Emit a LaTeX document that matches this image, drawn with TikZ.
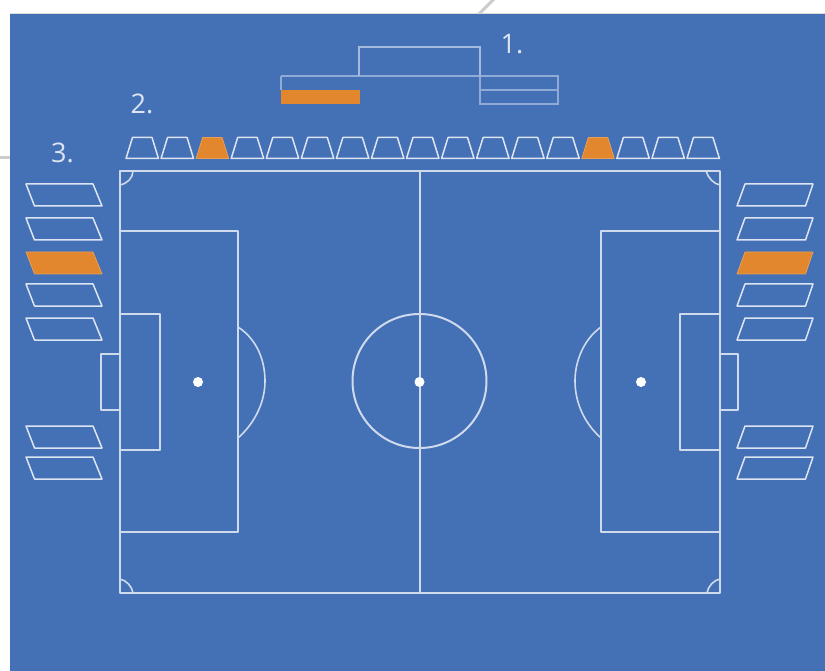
\documentclass[tikz,border=0pt]{standalone}
\usepackage{fontspec}
\setmainfont{Open Sans}
\definecolor{pitchblue}{HTML}{4470B6}
\definecolor{seatorange}{HTML}{E2872E}
\definecolor{linewhite}{HTML}{CFDAEC}
\definecolor{seatline}{HTML}{DDE5F2}
\definecolor{faintline}{HTML}{8FAAD4}
\tikzset{
  pitchline/.style={draw=linewhite,line width=2pt,line join=round},
  thinline/.style={draw=linewhite,line width=1.6pt,line join=round},
  faint/.style={draw=faintline,line width=1.4pt},
  seat/.style={draw=seatline,line width=1.5pt,line join=round},
  seathot/.style={fill=seatorange,draw=seatorange!80!white,line width=.8pt,line join=round},
  spot/.style={fill=white,draw=none},
  numlabel/.style={text=seatline,font=\fontsize{27}{27}\selectfont,inner sep=0pt,anchor=center}
}
\begin{document}
\begin{tikzpicture}[x=1pt,y=-1pt]
\useasboundingbox (0,0) rectangle (825,671);
\fill[white] (0,0) rectangle (825,671);
% stray grey lines behind the panel
\draw[black!20,line width=3pt] (478,15) -- (495,-2);
\draw[black!20,line width=3pt] (0,158) -- (12,158);
\fill[pitchblue] (10,13) rectangle (825,671);
\draw[black!15,line width=.8pt] (10,13) -- (825,13);
% main stand
\draw[faint] (281,76) -- (558,76);
\draw[faint] (281,76) -- (281,90);
\draw[faint] (480,90) -- (558,90);
\draw[faint] (480,104) rectangle (558,76);
\fill[seatorange] (281,90) rectangle (360,104);
\draw[faint,draw=linewhite!70!pitchblue] (359,76) -- (359,47) -- (480,47) -- (480,76);
% top row of stands
\foreach \i in {0,...,16}{
  \pgfmathsetmacro{\xo}{126+35.06*\i}
  \ifnum\i=2 \def\sty{seathot}\else\ifnum\i=13 \def\sty{seathot}\else\def\sty{seat}\fi\fi
  \draw[\sty] (\xo,158.5) -- (\xo+6.5,137.5) -- (\xo+26,137.5) -- (\xo+32.5,158.5) -- cycle;
}
% side stands
\foreach \yo/\sty in {184/seat,218/seat,252/seathot,284/seat,318/seat,426/seat,457/seat}{
  \draw[\sty] (26,\yo) -- (93,\yo) -- (102,\yo+22) -- (34.5,\yo+22) -- cycle;
  \draw[\sty] (813,\yo) -- (745,\yo) -- (737,\yo+22) -- (805.5,\yo+22) -- cycle;
}
% pitch
\draw[pitchline] (119.5,171) rectangle (720,593);
\draw[pitchline] (419.5,171) -- (419.5,593);
\draw[pitchline] (119.5,231) -- (238,231) -- (238,532) -- (119.5,532);
\draw[pitchline] (720,231) -- (601,231) -- (601,532) -- (720,532);
\draw[pitchline] (119.5,313.5) -- (159.5,313.5) -- (159.5,449.5) -- (119.5,449.5);
\draw[pitchline] (720,314) -- (680,314) -- (680,450) -- (720,450);
\draw[thinline] (119.5,354) -- (101,354) -- (101,410) -- (119.5,410);
\draw[thinline] (720,354) -- (738,354) -- (738,410) -- (720,410);
\draw[pitchline] (419.5,381) circle[radius=67];
\draw[thinline] (238,327) .. controls (258,340) and (265,362) .. (265,381) .. controls (265,402) and (255,423) .. (238,438);
\draw[thinline] (601,327) .. controls (583,340) and (575,362) .. (575,381) .. controls (575,402) and (584,423) .. (601,438);
\fill[spot] (198,382) circle[radius=5];
\fill[spot] (419.5,382) circle[radius=5];
\fill[spot] (641,382) circle[radius=5];
% corner arcs
\draw[thinline] (133,171) .. controls (133,178) and (127,184) .. (119.5,185);
\draw[thinline] (706,171) .. controls (708,178) and (714,184) .. (720,185);
\draw[thinline] (119.5,579) .. controls (126,580) and (132,586) .. (133,593);
\draw[thinline] (720,579) .. controls (714,580) and (708,586) .. (707,593);
% labels
\node[numlabel] (lab1) at (512,44) {1.};
\node[numlabel] (lab2) at (142,104) {2.};
\node[numlabel] (lab3) at (62.5,153) {3.};
\end{tikzpicture}
\end{document}
